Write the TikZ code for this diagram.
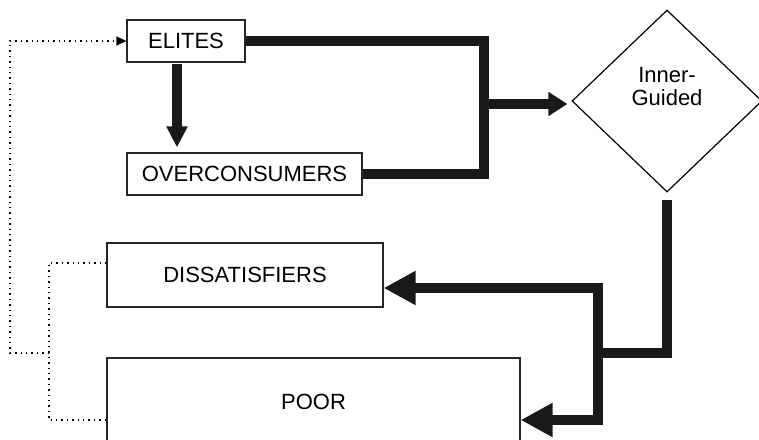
\documentclass[tikz,border=0pt]{standalone}
\usepackage{fontspec}
\setmainfont{Liberation Sans}
\usetikzlibrary{arrows.meta,shapes.geometric}

\begin{document}
\begin{tikzpicture}[x=0.5pt,y=-0.5pt,
    box/.style={draw=black!85, line width=0.6pt, inner sep=0pt, font=\fontsize{11}{12}\selectfont},
    flow/.style={draw=black!90, line width=5pt},
    bigtip/.style={-{Triangle[length=16pt,width=16pt]}},
    dots/.style={dotted, line width=0.7pt}]
    \path[use as bounding box, clip] (0,0) rectangle (759,439);
    % groups
    \node[box, minimum width=59pt, minimum height=21pt] (el) at (186,41) {ELITES};
    \node[box, minimum width=117.5pt, minimum height=21pt] (oc) at (244.5,174) {OVERCONSUMERS};
    \node[box, minimum width=138pt, minimum height=32pt] (ds) at (245,275) {DISSATISFIERS};
    \node[box, minimum width=206.5pt, minimum height=44pt] (pr) at (313.5,402) {POOR};
    \node[diamond, draw, line width=0.6pt, minimum width=95pt, minimum height=91pt, inner sep=0pt,
      label={[align=center, font=\fontsize{11}{11.5}\selectfont, yshift=7pt]center:Inner-\\Guided}] (ig) at (667,101) {};
    % bends
    \node (j1) at (484,41) {};
    \node (j2) at (484,174) {};
    \node (j3) at (484,104) {};
    \node (j4) at (667,200) {};
    \node (j5) at (667,353) {};
    \node (j6) at (598,353) {};
    \node (j7) at (598,288) {};
    \node (j8) at (598,420) {};
    \node (m) at (177,41) {};
    \node (d1) at (49,263) {};
    \node (d2) at (49,420) {};
    \node (d3) at (49,353) {};
    \node (d4) at (10,353) {};
    \node (d5) at (10,41) {};
    \draw [flow] (el.east) -- (j1.center) -- (j2.center) -- (oc.east);
    \draw [flow, -{Triangle[length=9.5pt,width=11.5pt]}, shorten >=2pt] (j3.center) -- (j3.center -| ig.west);
    \draw [flow, -{Triangle[length=10.5pt,width=10pt]}, shorten <=0.8pt, shorten >=2.5pt] (m.center |- el.south) -- (m.center |- oc.north);
    \draw [flow] (j4.center) -- (j5.center) -- (j6.center);
    \draw [flow, bigtip] (j6.center) -- (j7.center) -- (j7.center -| ds.east);
    \draw [flow, bigtip] (j6.center) -- (j8.center) -- (j8.center -| pr.east);
    \draw [dots] (d1.center -| ds.west) -- (d1.center) -- (d2.center) -- (d2.center -| pr.west);
    \draw [dots, -{Triangle[length=5pt,width=4.5pt]}] (d3.center) -- (d4.center) -- (d5.center) -- (el.west);
  \end{tikzpicture}
\end{document}
